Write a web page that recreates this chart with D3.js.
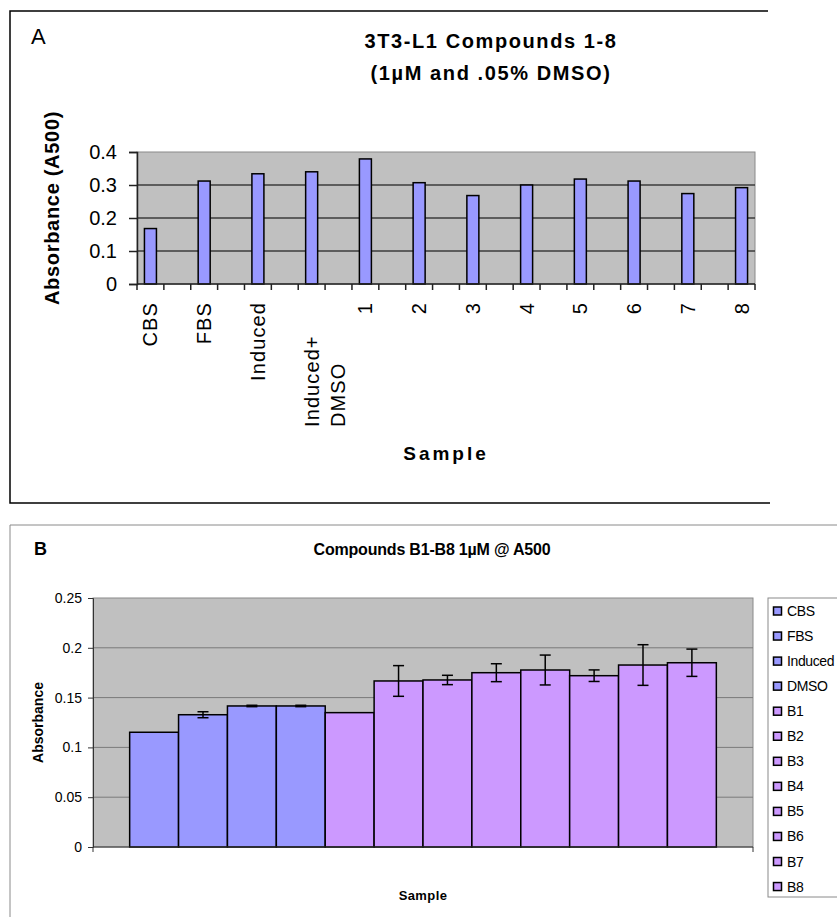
<!DOCTYPE html>
<html>
<head>
<meta charset="utf-8">
<script src="https://cdn.jsdelivr.net/npm/d3@7"></script>
<style>
  html, body { margin: 0; padding: 0; background: #fff; }
  svg { display: block; }
  text { font-family: "Liberation Sans", Arial, sans-serif; fill: #000; }
</style>
</head>
<body>
<div id="chart"></div>
<script>
// ---- Panel A data ----
const catsA = ["CBS", "FBS", "Induced", "Induced+\nDMSO", "1", "2", "3", "4", "5", "6", "7", "8"];
const valsA = [0.168, 0.312, 0.334, 0.340, 0.379, 0.307, 0.268, 0.300, 0.318, 0.312, 0.274, 0.292];
const ticksA = [0, 0.1, 0.2, 0.3, 0.4];

// ---- Panel B data ----
const catsB = ["CBS", "FBS", "Induced", "DMSO", "B1", "B2", "B3", "B4", "B5", "B6", "B7", "B8"];
const valsB = [0.1152, 0.1328, 0.1416, 0.1416, 0.1349, 0.1667, 0.1677, 0.1750, 0.1777, 0.1720, 0.1827, 0.1850];
const errB = [0, 0.003, 0.0007, 0.0007, 0, 0.0154, 0.0047, 0.0090, 0.0150, 0.0058, 0.0204, 0.0137];
const colorsB = ["#9999ff", "#9999ff", "#9999ff", "#9999ff", "#cc99ff", "#cc99ff", "#cc99ff", "#cc99ff", "#cc99ff", "#cc99ff", "#cc99ff", "#cc99ff"];
const ticksB = [0, 0.05, 0.1, 0.15, 0.2, 0.25];

const width = 837;
const height = 917;

const svg = d3.select("#chart")
    .append("svg")
    .attr("width", width)
    .attr("height", height);

// ================= Panel A =================
const gA = svg.append("g");

// frame (open on the right)
gA.append("path")
    .attr("d", "M768,11 H10 V503 H770")
    .attr("fill", "none")
    .attr("stroke", "#000")
    .attr("stroke-width", 1.5);

gA.append("text")
    .attr("x", 31).attr("y", 44)
    .attr("font-size", 22)
    .text("A");

const titleA = gA.append("text")
    .attr("text-anchor", "middle")
    .attr("font-size", 20)
    .attr("font-weight", "bold")
    .attr("letter-spacing", 1.6);
titleA.append("tspan").attr("x", 491).attr("y", 48).text("3T3-L1 Compounds 1-8");
titleA.append("tspan").attr("x", 491).attr("y", 80).text("(1µM and .05% DMSO)");

const plotA = { left: 137, right: 755, top: 152, bottom: 284 };

// every category is followed by an empty slot, like the original sheet
const slotsA = [];
catsA.forEach((c, i) => {
    slotsA.push(c);
    if (i < catsA.length - 1) slotsA.push("_gap" + i);
});

const xA = d3.scaleBand()
    .domain(slotsA)
    .range([plotA.left, plotA.right])
    .padding(0);

const yA = d3.scaleLinear()
    .domain([0, 0.4])
    .range([plotA.bottom, plotA.top]);

gA.append("rect")
    .attr("x", plotA.left).attr("y", plotA.top)
    .attr("width", plotA.right - plotA.left)
    .attr("height", plotA.bottom - plotA.top)
    .attr("fill", "#c0c0c0")
    .attr("stroke", "#8a8a8a")
    .attr("stroke-width", 1);

gA.selectAll(".gridA")
    .data(ticksA.filter(t => t > 0 && t < 0.4))
    .enter()
    .append("line")
    .attr("x1", plotA.left).attr("x2", plotA.right)
    .attr("y1", d => yA(d)).attr("y2", d => yA(d))
    .attr("stroke", "#3c3c3c")
    .attr("stroke-width", 1.6);

const barWA = 12;
gA.selectAll(".barA")
    .data(catsA.map((c, i) => ({ c, v: valsA[i] })))
    .enter()
    .append("rect")
    .attr("x", d => xA(d.c) + (xA.bandwidth() - barWA) / 2)
    .attr("y", d => yA(d.v))
    .attr("width", barWA)
    .attr("height", d => yA(0) - yA(d.v))
    .attr("fill", "#9999ff")
    .attr("stroke", "#000")
    .attr("stroke-width", 1.5);

// y axis
const yAxisA = gA.append("g")
    .attr("transform", `translate(${plotA.left},0)`)
    .call(d3.axisLeft(yA).tickValues(ticksA).tickFormat(String).tickSize(8).tickPadding(12));
yAxisA.select(".domain").attr("stroke", "#222").attr("stroke-width", 1.5);
yAxisA.selectAll(".tick line").attr("stroke", "#222").attr("stroke-width", 1.5);
yAxisA.selectAll(".tick text")
    .attr("font-size", 20)
    .attr("font-family", "'Liberation Sans', Arial, sans-serif")
    .attr("fill", "#111");

// x axis line + ticks on every slot boundary
gA.append("line")
    .attr("x1", plotA.left).attr("x2", plotA.right)
    .attr("y1", yA(0)).attr("y2", yA(0))
    .attr("stroke", "#222").attr("stroke-width", 1.5);

const bounds = slotsA.map(s => xA(s)).concat([plotA.right]);
gA.selectAll(".tickA")
    .data(bounds)
    .enter()
    .append("line")
    .attr("x1", d => d).attr("x2", d => d)
    .attr("y1", yA(0)).attr("y2", yA(0) + 6)
    .attr("stroke", "#222").attr("stroke-width", 1.5);

// rotated category labels
catsA.forEach(c => {
    const cx = xA(c) + xA.bandwidth() / 2;
    const lines = c.split("\n");
    const t = gA.append("text")
        .attr("transform", `translate(${cx},${yA(0)}) rotate(-90)`)
        .attr("font-size", 20)
        .attr("letter-spacing", 1.1)
        .attr("fill", "#111");
    if (lines.length === 1) {
        t.attr("text-anchor", "end")
            .attr("x", -18).attr("y", 0).attr("dy", "0.35em")
            .text(c);
    } else {
        t.attr("text-anchor", "start");
        lines.forEach((ln, k) => {
            t.append("tspan")
                .attr("x", -143)
                .attr("y", 0)
                .attr("dy", (0.35 + k * 1.3) + "em")
                .text(ln);
        });
    }
});

gA.append("text")
    .attr("x", 446).attr("y", 460)
    .attr("text-anchor", "middle")
    .attr("font-size", 19)
    .attr("font-weight", "bold")
    .attr("letter-spacing", 3)
    .text("Sample");

gA.append("text")
    .attr("transform", `translate(59,${(plotA.top + plotA.bottom) / 2 - 10}) rotate(-90)`)
    .attr("text-anchor", "middle")
    .attr("font-size", 20)
    .attr("font-weight", "bold")
    .attr("letter-spacing", 0.7)
    .text("Absorbance (A500)");

// ================= Panel B =================
const gB = svg.append("g");

gB.append("path")
    .attr("d", `M${width},525 H10 V${height}`)
    .attr("fill", "none")
    .attr("stroke", "#8a8a8a")
    .attr("stroke-width", 1);

gB.append("text")
    .attr("x", 34).attr("y", 555)
    .attr("font-size", 18)
    .attr("font-weight", "bold")
    .text("B");

gB.append("text")
    .attr("x", 432).attr("y", 555)
    .attr("text-anchor", "middle")
    .attr("font-size", 16)
    .attr("font-weight", "bold")
    .attr("letter-spacing", -0.2)
    .text("Compounds B1-B8 1µM @ A500");

const plotB = { left: 93, right: 753, top: 598, bottom: 847 };

const xB = d3.scaleBand()
    .domain(catsB)
    .range([plotB.left, plotB.right])
    .paddingInner(0)
    .paddingOuter(0.75);

const yB = d3.scaleLinear()
    .domain([0, 0.25])
    .range([plotB.bottom, plotB.top]);

gB.append("rect")
    .attr("x", plotB.left).attr("y", plotB.top)
    .attr("width", plotB.right - plotB.left)
    .attr("height", plotB.bottom - plotB.top)
    .attr("fill", "#c0c0c0")
    .attr("stroke", "#8a8a8a")
    .attr("stroke-width", 1);

gB.selectAll(".gridB")
    .data(ticksB.filter(t => t > 0 && t < 0.25))
    .enter()
    .append("line")
    .attr("x1", plotB.left).attr("x2", plotB.right)
    .attr("y1", d => yB(d)).attr("y2", d => yB(d))
    .attr("stroke", "#7a7a7a")
    .attr("stroke-width", 1);

const dataB = catsB.map((c, i) => ({ c, v: valsB[i], e: errB[i], col: colorsB[i] }));

gB.selectAll(".barB")
    .data(dataB)
    .enter()
    .append("rect")
    .attr("x", d => xB(d.c))
    .attr("y", d => yB(d.v))
    .attr("width", xB.bandwidth())
    .attr("height", d => yB(0) - yB(d.v))
    .attr("fill", d => d.col)
    .attr("stroke", "#000")
    .attr("stroke-width", 1.5);

// error bars
const capW = 11;
const errG = gB.selectAll(".errB")
    .data(dataB.filter(d => d.e > 0))
    .enter()
    .append("g")
    .attr("stroke", "#000")
    .attr("stroke-width", 1.5);
errG.append("line")
    .attr("x1", d => xB(d.c) + xB.bandwidth() / 2)
    .attr("x2", d => xB(d.c) + xB.bandwidth() / 2)
    .attr("y1", d => yB(d.v + d.e))
    .attr("y2", d => yB(d.v - d.e));
errG.append("line")
    .attr("x1", d => xB(d.c) + xB.bandwidth() / 2 - capW / 2)
    .attr("x2", d => xB(d.c) + xB.bandwidth() / 2 + capW / 2)
    .attr("y1", d => yB(d.v + d.e))
    .attr("y2", d => yB(d.v + d.e));
errG.append("line")
    .attr("x1", d => xB(d.c) + xB.bandwidth() / 2 - capW / 2)
    .attr("x2", d => xB(d.c) + xB.bandwidth() / 2 + capW / 2)
    .attr("y1", d => yB(d.v - d.e))
    .attr("y2", d => yB(d.v - d.e));

const yAxisB = gB.append("g")
    .attr("transform", `translate(${plotB.left},0)`)
    .call(d3.axisLeft(yB).tickValues(ticksB).tickFormat(String).tickSize(5).tickPadding(6));
yAxisB.select(".domain").attr("stroke", "#333");
yAxisB.selectAll(".tick line").attr("stroke", "#333");
yAxisB.selectAll(".tick text")
    .attr("font-size", 14)
    .attr("font-family", "'Liberation Sans', Arial, sans-serif")
    .attr("fill", "#111");

const xAxisB = gB.append("g")
    .attr("transform", `translate(0,${plotB.bottom})`);
xAxisB.append("line")
    .attr("x1", plotB.left).attr("x2", plotB.right)
    .attr("stroke", "#333");
xAxisB.selectAll(".tickB")
    .data([plotB.left, plotB.right])
    .enter()
    .append("line")
    .attr("x1", d => d).attr("x2", d => d)
    .attr("y1", 0).attr("y2", 5)
    .attr("stroke", "#333");

gB.append("text")
    .attr("x", (plotB.left + plotB.right) / 2).attr("y", 900)
    .attr("text-anchor", "middle")
    .attr("font-size", 13)
    .attr("font-weight", "bold")
    .attr("letter-spacing", 0.4)
    .text("Sample");

gB.append("text")
    .attr("transform", `translate(43,${(plotB.top + plotB.bottom) / 2}) rotate(-90)`)
    .attr("text-anchor", "middle")
    .attr("font-size", 14)
    .attr("font-weight", "bold")
    .text("Absorbance");

// legend
const legend = gB.append("g").attr("transform", "translate(768,598)");
legend.append("rect")
    .attr("x", 0).attr("y", 0)
    .attr("width", 100).attr("height", 299)
    .attr("fill", "#fff")
    .attr("stroke", "#8a8a8a");

const items = legend.selectAll(".item")
    .data(dataB)
    .enter()
    .append("g")
    .attr("transform", (d, i) => `translate(0,${13 + i * 25.05})`);
items.append("rect")
    .attr("x", 5.5).attr("y", -4)
    .attr("width", 8).attr("height", 8)
    .attr("fill", d => d.col)
    .attr("stroke", "#000")
    .attr("stroke-width", 1.5);
items.append("text")
    .attr("x", 19).attr("y", 0)
    .attr("dy", "0.36em")
    .attr("font-size", 14)
    .attr("letter-spacing", -0.4)
    .attr("fill", "#111")
    .text(d => d.c);
</script>
</body>
</html>
